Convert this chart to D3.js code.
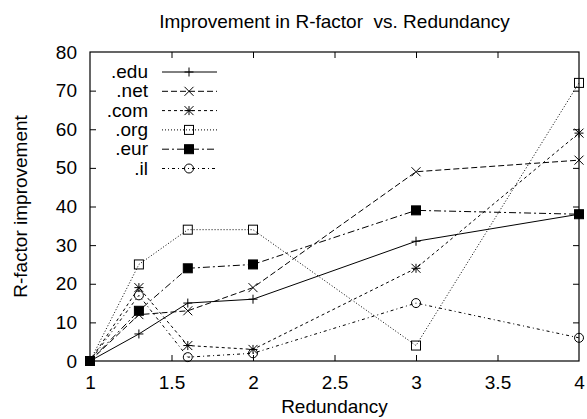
<!DOCTYPE html>
<html>
<head>
<meta charset="utf-8">
<script src="https://cdn.jsdelivr.net/npm/d3@7"></script>
<style>
  html, body { margin: 0; padding: 0; background: #fff; }
  svg { display: block; font-family: "Liberation Sans", Arial, sans-serif; }
</style>
</head>
<body>
<svg id="chart" width="587" height="419"></svg>
<script>
// Redundancy levels on the x axis
const redundancy = [1, 1.3, 1.6, 2, 3, 4];

// R-factor improvement per domain
const eduValues = [0, 7, 15, 16, 31, 38];
const netValues = [0, 12, 13, 19, 49, 52];
const comValues = [0, 19, 4, 3, 24, 59];
const orgValues = [0, 25, 34, 34, 4, 72];
const eurValues = [0, 13, 24, 25, 39, 38];
const ilValues  = [0, 17, 1, 2, 15, 6];

const seriesNames = [".edu", ".net", ".com", ".org", ".eur", ".il"];
const xTickValues = [1, 1.5, 2, 2.5, 3, 3.5, 4];
const yTickValues = [0, 10, 20, 30, 40, 50, 60, 70, 80];

const series = [
  { name: seriesNames[0], values: eduValues, dash: null,         marker: "plus" },
  { name: seriesNames[1], values: netValues, dash: "6,3",        marker: "cross" },
  { name: seriesNames[2], values: comValues, dash: "3,3",        marker: "star" },
  { name: seriesNames[3], values: orgValues, dash: "1,2",        marker: "square" },
  { name: seriesNames[4], values: eurValues, dash: "7,3,2,3",    marker: "filledSquare" },
  { name: seriesNames[5], values: ilValues,  dash: "3,3,1,3",    marker: "circle" }
];

const FONT = "19px";
const svg = d3.select("#chart");
const margin = { left: 90, right: 8, top: 52, bottom: 58 };
const W = 587, H = 419;

const x = d3.scaleLinear().domain([1, 4]).range([margin.left, W - margin.right]);
const y = d3.scaleLinear().domain([0, 80]).range([H - margin.bottom, margin.top]);

const x0 = x.range()[0], x1 = x.range()[1];
const y0 = y.range()[0], y1 = y.range()[1];

// Axes with inward ticks, mirrored on the top and right edges
const tickLen = 6;
const gxB = svg.append("g").attr("transform", `translate(0,${y0})`)
  .call(d3.axisBottom(x).tickValues(xTickValues).tickSizeInner(-tickLen).tickSizeOuter(0).tickPadding(15)
    .tickFormat(d3.format("")));
const gxT = svg.append("g").attr("transform", `translate(0,${y1})`)
  .call(d3.axisTop(x).tickValues(xTickValues).tickSizeInner(-tickLen).tickSizeOuter(0).tickFormat(""));
const gyL = svg.append("g").attr("transform", `translate(${x0},0)`)
  .call(d3.axisLeft(y).tickValues(yTickValues).tickSizeInner(-tickLen).tickSizeOuter(0).tickPadding(13));
const gyR = svg.append("g").attr("transform", `translate(${x1},0)`)
  .call(d3.axisRight(y).tickValues(yTickValues).tickSizeInner(-tickLen).tickSizeOuter(0).tickFormat(""));

[gxB, gxT, gyL, gyR].forEach(g => {
  g.select(".domain").remove();
  g.selectAll(".tick line").attr("stroke", "#000").attr("stroke-width", 1);
  g.selectAll(".tick text").attr("fill", "#000").style("font-size", FONT)
    .style("font-family", "'Liberation Sans', Arial, sans-serif");
});
// Skip the first/last inward ticks that coincide with the frame corners
[gxB, gxT].forEach(g => g.selectAll(".tick line").filter(d => d === 1 || d === 4).remove());
[gyL, gyR].forEach(g => g.selectAll(".tick line").filter(d => d === 0 || d === 80).remove());

// Plot frame
svg.append("rect").attr("x", x0).attr("y", y1).attr("width", x1 - x0).attr("height", y0 - y1)
  .attr("fill", "none").attr("stroke", "#000").attr("stroke-width", 1.2);

// Titles
svg.append("text").attr("x", (x0 + x1) / 2).attr("y", 28).attr("text-anchor", "middle")
  .style("font-size", FONT).attr("fill", "#000").attr("xml:space", "preserve")
  .text("Improvement in R-factor  vs. Redundancy");
svg.append("text").attr("x", (x0 + x1) / 2).attr("y", 413).attr("text-anchor", "middle")
  .style("font-size", FONT).attr("fill", "#000").text("Redundancy");
svg.append("text").attr("transform", `translate(27,${(y0 + y1) / 2}) rotate(-90)`)
  .attr("text-anchor", "middle").style("font-size", FONT).attr("fill", "#000")
  .text("R-factor improvement");

// Marker drawing
function drawMarker(g, type, cx, cy) {
  const s = 4.5;
  const stroke = "#000";
  if (type === "plus") {
    g.append("path").attr("d", `M${cx - s},${cy}H${cx + s}M${cx},${cy - s}V${cy + s}`)
      .attr("stroke", stroke).attr("fill", "none");
  } else if (type === "cross") {
    g.append("path").attr("d", `M${cx - s},${cy - s}L${cx + s},${cy + s}M${cx - s},${cy + s}L${cx + s},${cy - s}`)
      .attr("stroke", stroke).attr("fill", "none");
  } else if (type === "star") {
    g.append("path").attr("d",
      `M${cx - s},${cy - s}L${cx + s},${cy + s}M${cx - s},${cy + s}L${cx + s},${cy - s}` +
      `M${cx - s},${cy}H${cx + s}M${cx},${cy - s}V${cy + s}`)
      .attr("stroke", stroke).attr("fill", "none");
  } else if (type === "square") {
    g.append("rect").attr("x", cx - s).attr("y", cy - s).attr("width", 2 * s).attr("height", 2 * s)
      .attr("stroke", stroke).attr("fill", "none");
  } else if (type === "filledSquare") {
    g.append("rect").attr("x", cx - s).attr("y", cy - s).attr("width", 2 * s).attr("height", 2 * s)
      .attr("stroke", stroke).attr("fill", "#000");
  } else if (type === "circle") {
    g.append("circle").attr("cx", cx).attr("cy", cy).attr("r", s)
      .attr("stroke", stroke).attr("fill", "none");
  }
}

const line = d3.line().x(d => x(d[0])).y(d => y(d[1]));

const plot = svg.append("g");
series.forEach(s => {
  const pts = redundancy.map((r, i) => [r, s.values[i]]);
  plot.append("path").datum(pts).attr("d", line)
    .attr("fill", "none").attr("stroke", "#000").attr("stroke-width", 1)
    .attr("stroke-dasharray", s.dash);
  const mg = plot.append("g");
  pts.forEach(p => drawMarker(mg, s.marker, x(p[0]), y(p[1])));
});

// Legend
const legend = svg.append("g");
series.forEach((s, i) => {
  const ly = 72 + i * 19.3;
  legend.append("text").attr("x", 148).attr("y", ly + 6).attr("text-anchor", "end")
    .style("font-size", FONT).attr("fill", "#000").text(s.name);
  legend.append("line").attr("x1", 162).attr("x2", 217).attr("y1", ly).attr("y2", ly)
    .attr("stroke", "#000").attr("stroke-width", 1).attr("stroke-dasharray", s.dash);
  drawMarker(legend, s.marker, 189, ly);
});
</script>
</body>
</html>
